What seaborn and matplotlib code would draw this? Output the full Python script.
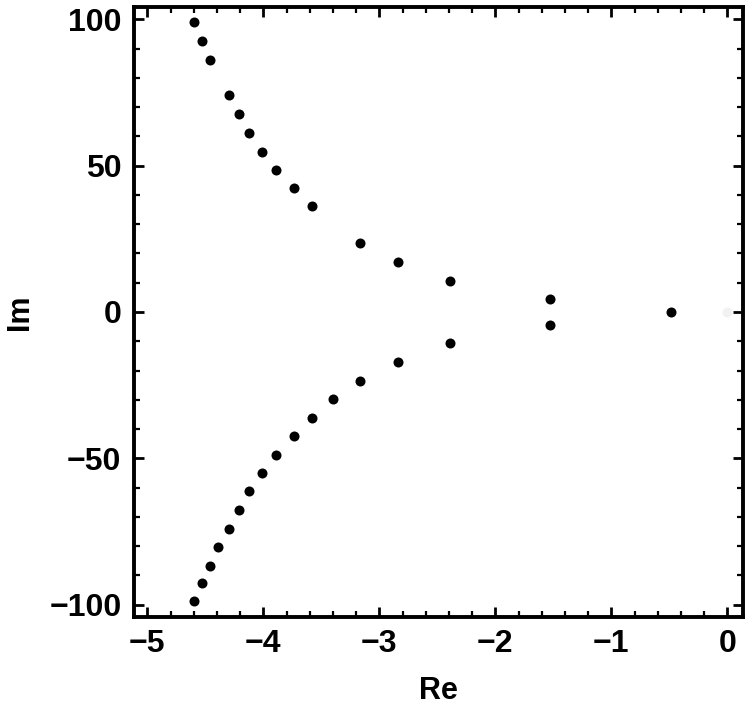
import numpy as np
import pandas as pd
import matplotlib
matplotlib.use('Agg')
import matplotlib.pyplot as plt
import seaborn as sns
from matplotlib.ticker import MultipleLocator

# eigenvalues
upper_re = [-4.60, -4.53, -4.46, -4.30, -4.21, -4.12, -4.01, -3.89, -3.74, -3.58,
            -3.17, -2.84, -2.39, -1.53]
upper_im = [98.9, 92.5, 86.2, 74.0, 67.6, 61.2, 54.8, 48.5, 42.2, 36.1,
            23.5, 17.1, 10.7, 4.6]
lower_re = [-1.53, -2.39, -2.84, -3.17, -3.40, -3.58, -3.74, -3.89, -4.01, -4.12,
            -4.21, -4.30, -4.39, -4.46, -4.53, -4.60]
lower_im = [-4.6, -10.7, -17.1, -23.5, -29.8, -36.1, -42.5, -48.9, -54.9, -61.3,
            -67.7, -74.0, -80.4, -86.8, -92.6, -98.9]
real_re = [-0.49]
real_im = [0.0]
faint_re = [0.0]
faint_im = [0.0]

df = pd.DataFrame({
    'Re': upper_re + lower_re + real_re,
    'Im': upper_im + lower_im + real_im,
})

sns.set_style('ticks')
plt.rcParams['font.family'] = ['Liberation Sans', 'DejaVu Sans']
plt.rcParams['font.weight'] = 'bold'
plt.rcParams['text.color'] = 'black'
plt.rcParams['axes.labelcolor'] = 'black'
plt.rcParams['xtick.color'] = 'black'
plt.rcParams['ytick.color'] = 'black'

fig = plt.figure(figsize=(7.5, 7.19), dpi=100)
ax = fig.add_axes([0.1787, 0.1419, 0.812, 0.8484])

sns.scatterplot(x=faint_re, y=faint_im, ax=ax, color='#f2f2f2', s=52, linewidth=0)
sns.scatterplot(data=df, x='Re', y='Im', ax=ax, color='black', s=52, linewidth=0)

ax.set_xlim(-5.115, 0.135)
ax.set_ylim(-104.2, 104.2)
ax.xaxis.set_major_locator(MultipleLocator(1))
ax.xaxis.set_minor_locator(MultipleLocator(0.2))
ax.yaxis.set_major_locator(MultipleLocator(50))
ax.yaxis.set_minor_locator(MultipleLocator(10))
ax.tick_params(which='both', direction='in', top=True, right=True,
               color='black', labelcolor='black')
ax.tick_params(which='major', length=7, width=2, labelsize=23, pad=9)
ax.tick_params(which='minor', length=4, width=1.6)
for sp in ax.spines.values():
    sp.set_linewidth(2.8)
    sp.set_color('black')
for lab in ax.get_xticklabels() + ax.get_yticklabels():
    lab.set_fontweight('bold')

ax.set_xlabel('Re', fontsize=22, fontweight='bold', labelpad=12, color='black')
ax.set_ylabel('Im', fontsize=22, fontweight='bold', labelpad=10, color='black')

fig.savefig('out.png', dpi=100)
